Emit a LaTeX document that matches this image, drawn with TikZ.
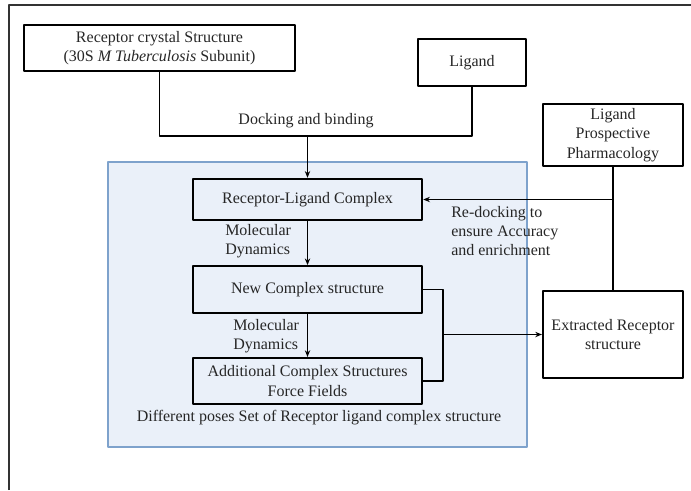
\documentclass[tikz,border=0pt]{standalone}
\usepackage{fontspec}
\setmainfont{Liberation Serif}
\usepackage{xcolor}
\usetikzlibrary{arrows.meta,calc}
\definecolor{poolfill}{RGB}{234,240,249}
\definecolor{pooledge}{RGB}{126,162,204}
\tikzset{
  stepbox/.style={draw,line width=1.6pt,align=center,inner sep=2pt,text=black!85,font=\fontsize{12}{14.5}\selectfont},
  flowline/.style={line width=0.9pt},
  flowarrow/.style={line width=0.9pt,-{Stealth[length=5pt,width=4pt]}},
  note/.style={inner sep=0pt,text=black!85,font=\fontsize{12}{14}\selectfont}
}
\begin{document}
\begin{tikzpicture}[x=0.75pt,y=-0.75pt,line join=round]
  \useasboundingbox (0,0) rectangle (691,490);
  \draw[line width=1.4pt,black!80] (9,490) -- (9,5) -- (691,5);
  \draw[fill=poolfill,draw=pooledge,line width=0.9pt] (108,162) rectangle (527,447);
  \node[stepbox,minimum width=203pt,minimum height=34.5pt] (rcs) at (159.5,48) {Receptor crystal Structure\\(30S \textit{M Tuberculosis} Subunit)};
  \node[stepbox,minimum width=81pt,minimum height=35pt] (lig) at (472,62.5) {Ligand};
  \node[stepbox,minimum width=105pt,minimum height=46.5pt] (lpp) at (613,135) {Ligand\\Prospective\\Pharmacology};
  \node[stepbox,minimum width=172pt,minimum height=31pt] (rlc) at (307.5,199.5) {Receptor-Ligand Complex};
  \node[stepbox,minimum width=172pt,minimum height=35pt] (ncs) at (307.5,289.5) {New Complex structure};
  \node[stepbox,minimum width=172pt,minimum height=34.5pt] (acs) at (307.5,381) {Additional Complex Structures\\Force Fields};
  \node[stepbox,minimum width=105pt,minimum height=65pt] (ers) at (613,334.5) {Extracted Receptor\\structure};
  \coordinate (dock) at (307.5,136);
  \coordinate (redock) at (613,199.5);
  \coordinate (bend) at (443,334.5);
  \draw[flowline] (rcs.south) |- (dock) -| (lig.south);
  \draw[flowarrow] (dock) -- (rlc.north);
  \draw[flowarrow] (rlc.south) -- (ncs.north);
  \draw[flowarrow] (ncs.south) -- (acs.north);
  \draw[flowline] (lpp.south) -- (ers.north);
  \draw[flowarrow] (redock) -- (rlc.east);
  \draw[flowline] (ncs.east) -| (bend) |- (acs.east);
  \draw[flowarrow] (bend) -- (ers.west);
  \node[note] (dockl) at (306,121) {Docking and binding};
  \node[note,anchor=west,align=left] (md1) at (225,241) {Molecular\\Dynamics};
  \node[note,anchor=west,align=left] (md2) at (233,336) {Molecular\\Dynamics};
  \node[note,anchor=west,align=left] (redockl) at (451,231) {Re-docking to\\ensure Accuracy\\and enrichment};
  \node[note] (poses) at (319,418) {Different poses Set of Receptor ligand complex structure};
\end{tikzpicture}
\end{document}
